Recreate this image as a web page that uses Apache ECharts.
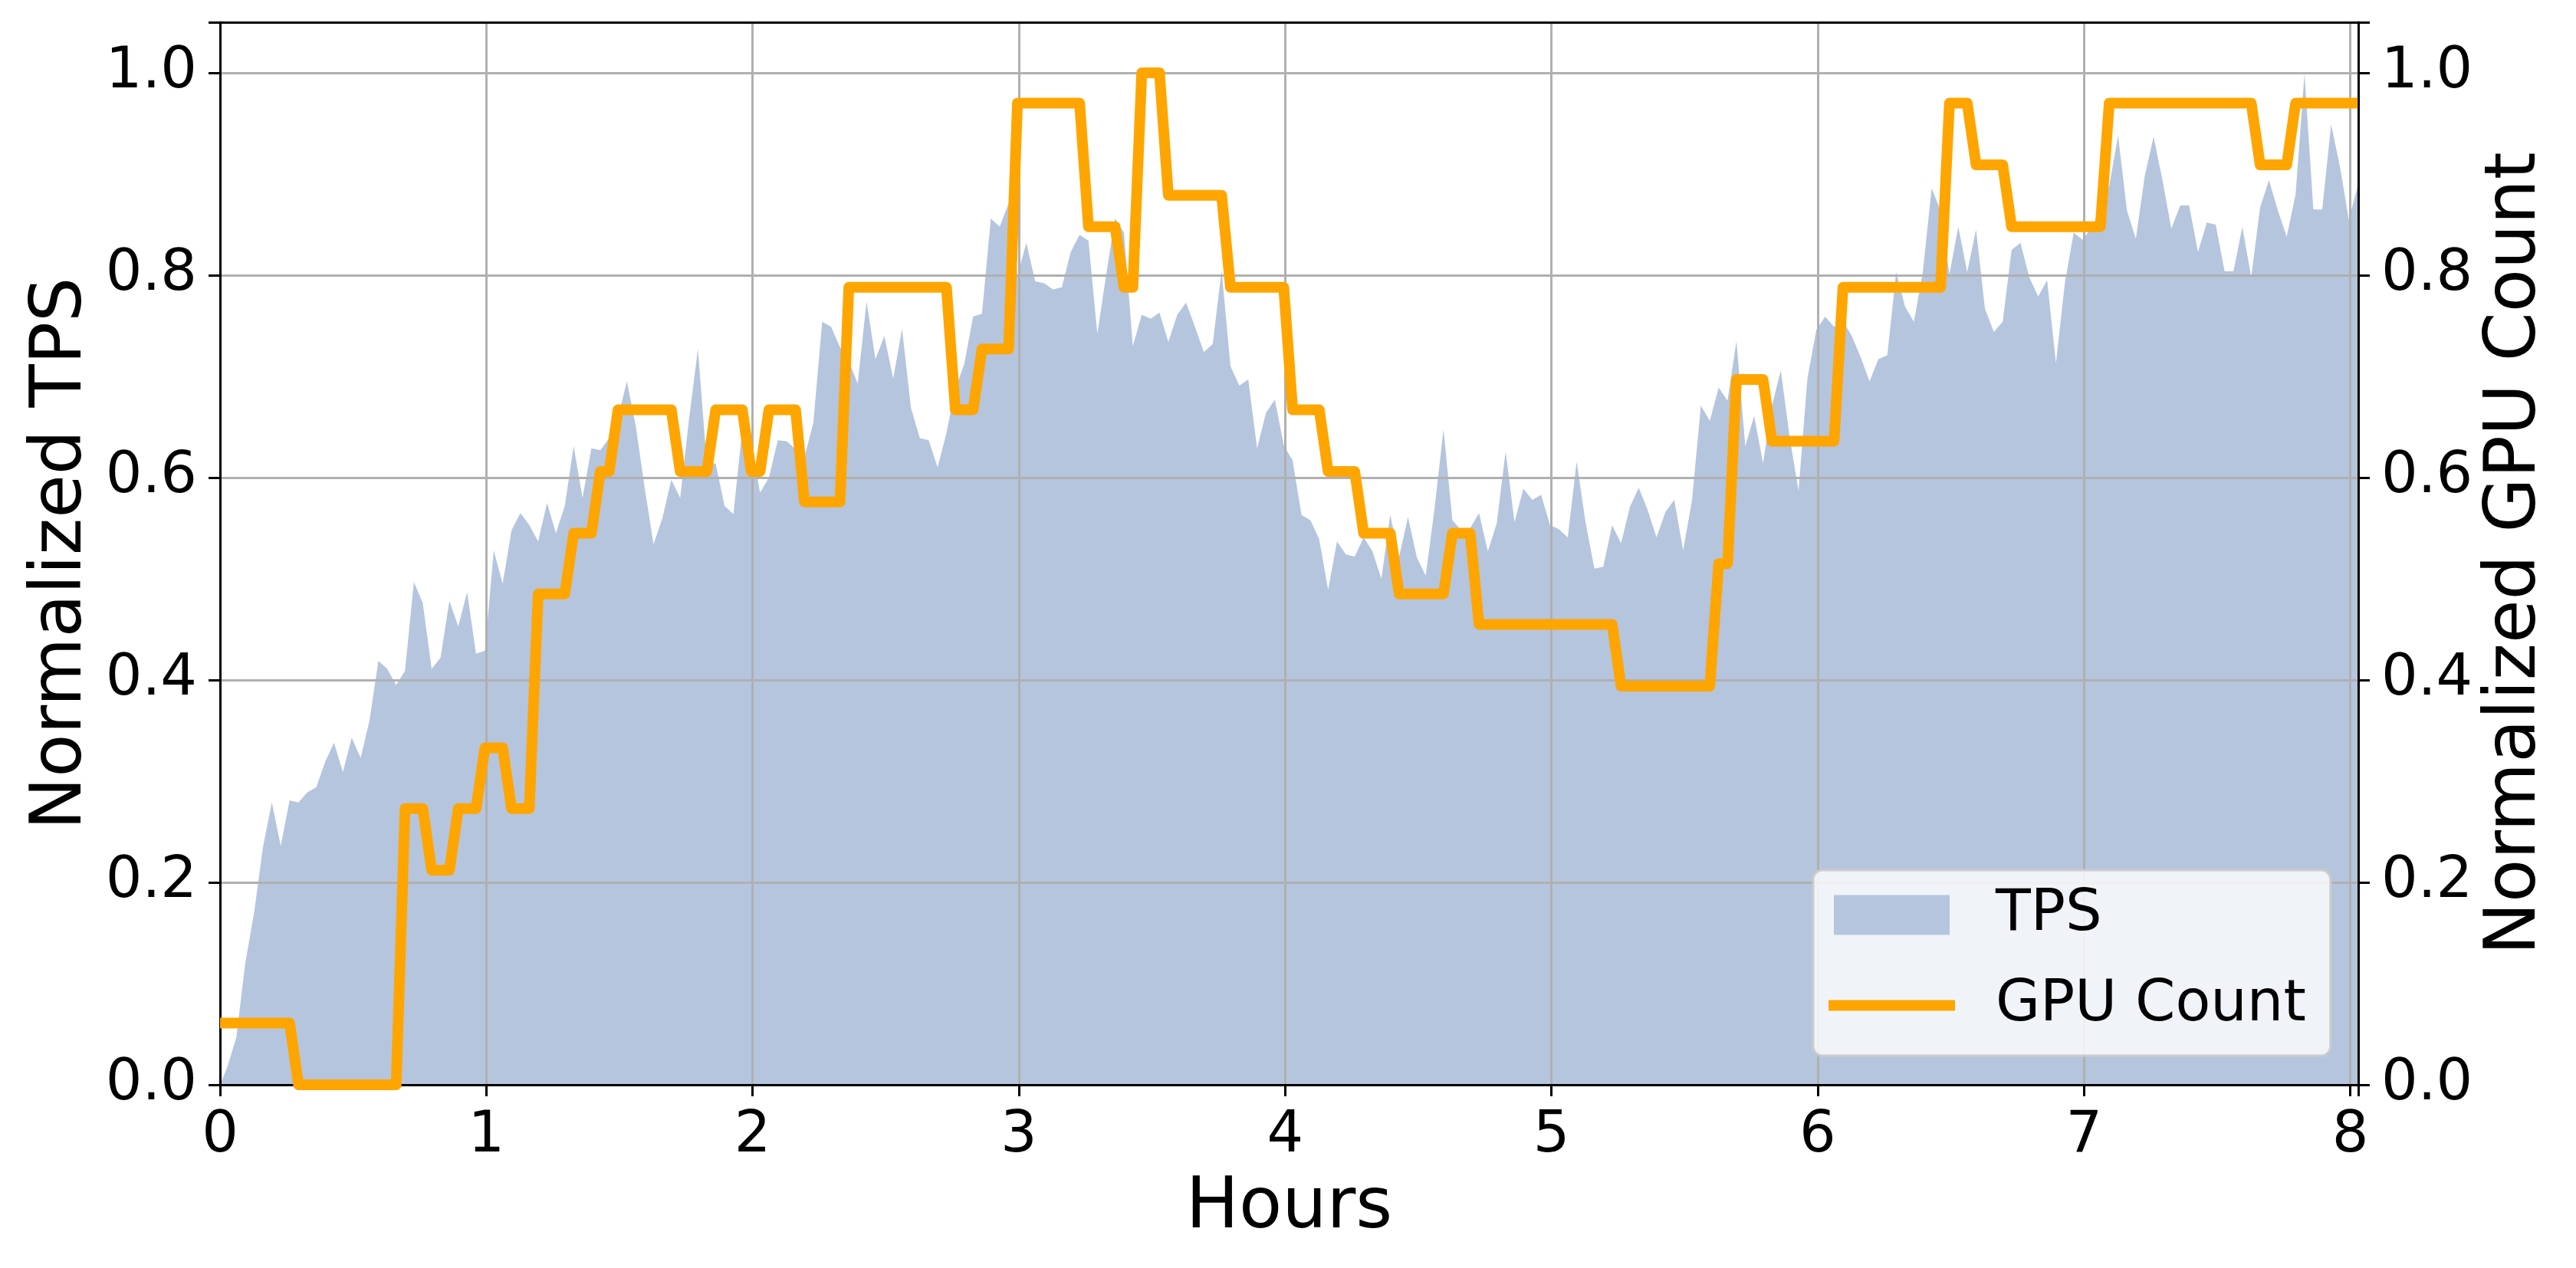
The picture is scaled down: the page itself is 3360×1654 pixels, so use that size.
<!DOCTYPE html>
<html>
<head>
<meta charset="utf-8">
<script src="https://cdn.jsdelivr.net/npm/echarts@6/dist/echarts.min.js"></script>
<style>
  html, body { margin: 0; padding: 0; background: #fff; }
  #chart { width: 3360px; height: 1654px; }
</style>
</head>
<body>
<div id="chart"></div>
<script>
// ---- Data ----
// Sample times: first point at 0 h, then samples every 2 minutes starting at 0.028 h
const FIRST_SAMPLE_H = 0.028;
const SAMPLE_STEP_H = 2 / 60;
const X_MAX = 8.03;

// Normalized TPS (first value is the point at 0 h)
const tpsValues = [
  0,
  0.018, 0.047, 0.12, 0.17, 0.235,
  0.279, 0.236, 0.281, 0.279, 0.289, 0.294, 0.319, 0.338, 0.309, 0.343,
  0.323, 0.36, 0.419, 0.411, 0.395, 0.409, 0.497, 0.476, 0.411, 0.422,
  0.478, 0.453, 0.487, 0.426, 0.429, 0.528, 0.495, 0.548, 0.565, 0.553,
  0.537, 0.575, 0.545, 0.572, 0.631, 0.58, 0.629, 0.627, 0.639, 0.66,
  0.695, 0.651, 0.59, 0.534, 0.56, 0.598, 0.58, 0.658, 0.727, 0.614,
  0.614, 0.572, 0.564, 0.648, 0.635, 0.585, 0.60, 0.637, 0.636, 0.628,
  0.62, 0.654, 0.754, 0.749, 0.729, 0.715, 0.693, 0.774, 0.717, 0.74,
  0.698, 0.747, 0.669, 0.639, 0.637, 0.61, 0.644, 0.688, 0.712, 0.759,
  0.762, 0.856, 0.848, 0.871, 0.80, 0.832, 0.794, 0.792, 0.786, 0.788,
  0.823, 0.84, 0.834, 0.742, 0.801, 0.856, 0.842, 0.73, 0.761, 0.757,
  0.763, 0.734, 0.761, 0.773, 0.749, 0.724, 0.732, 0.805, 0.71, 0.691,
  0.697, 0.629, 0.664, 0.677, 0.632, 0.617, 0.563, 0.558, 0.539, 0.489,
  0.537, 0.524, 0.522, 0.541, 0.527, 0.5, 0.563, 0.522, 0.561, 0.521,
  0.503, 0.57, 0.648, 0.558, 0.548, 0.55, 0.565, 0.527, 0.555, 0.626,
  0.556, 0.589, 0.578, 0.583, 0.553, 0.549, 0.541, 0.616, 0.556, 0.51,
  0.512, 0.553, 0.535, 0.571, 0.59, 0.568, 0.541, 0.566, 0.578, 0.528,
  0.578, 0.671, 0.656, 0.689, 0.676, 0.735, 0.631, 0.661, 0.614, 0.671,
  0.706, 0.64, 0.587, 0.698, 0.746, 0.759, 0.749, 0.755, 0.74, 0.719,
  0.695, 0.717, 0.721, 0.803, 0.769, 0.754, 0.803, 0.886, 0.864, 0.801,
  0.848, 0.803, 0.845, 0.767, 0.744, 0.754, 0.825, 0.832, 0.798, 0.779,
  0.795, 0.713, 0.792, 0.842, 0.835, 0.847, 0.864, 0.888, 0.938, 0.864,
  0.836, 0.898, 0.937, 0.894, 0.846, 0.869, 0.869, 0.823, 0.852, 0.85,
  0.804, 0.804, 0.848, 0.798, 0.867, 0.894, 0.864, 0.838, 0.88, 0.999,
  0.865, 0.865, 0.949, 0.907, 0.855, 0.888
];

// Normalized GPU count (same sample times as TPS)
const gpuValues = [
  0.061,
  0.061, 0.061, 0.061, 0.061, 0.061, 0.061, 0.061, 0.061,
  0, 0, 0, 0, 0, 0, 0, 0, 0, 0, 0, 0,
  0.273, 0.273, 0.273,
  0.212, 0.212, 0.212,
  0.273, 0.273, 0.273,
  0.333, 0.333, 0.333,
  0.273, 0.273, 0.273,
  0.485, 0.485, 0.485, 0.485,
  0.545, 0.545, 0.545,
  0.606, 0.606,
  0.667, 0.667, 0.667, 0.667, 0.667, 0.667, 0.667,
  0.606, 0.606, 0.606, 0.606,
  0.667, 0.667, 0.667, 0.667,
  0.606, 0.606,
  0.667, 0.667, 0.667, 0.667,
  0.576, 0.576, 0.576, 0.576, 0.576,
  0.788, 0.788, 0.788, 0.788, 0.788, 0.788, 0.788, 0.788, 0.788, 0.788, 0.788, 0.788,
  0.667, 0.667, 0.667,
  0.727, 0.727, 0.727, 0.727,
  0.970, 0.970, 0.970, 0.970, 0.970, 0.970, 0.970, 0.970,
  0.848, 0.848, 0.848, 0.848,
  0.788, 0.788,
  1.0, 1.0, 1.0,
  0.879, 0.879, 0.879, 0.879, 0.879, 0.879, 0.879,
  0.788, 0.788, 0.788, 0.788, 0.788, 0.788, 0.788,
  0.667, 0.667, 0.667, 0.667,
  0.606, 0.606, 0.606, 0.606,
  0.545, 0.545, 0.545, 0.545,
  0.485, 0.485, 0.485, 0.485, 0.485, 0.485,
  0.545, 0.545, 0.545,
  0.455, 0.455, 0.455, 0.455, 0.455, 0.455, 0.455, 0.455,
  0.455, 0.455, 0.455, 0.455, 0.455, 0.455, 0.455, 0.455,
  0.394, 0.394, 0.394, 0.394, 0.394, 0.394, 0.394, 0.394, 0.394, 0.394, 0.394,
  0.515, 0.515,
  0.697, 0.697, 0.697, 0.697,
  0.636, 0.636, 0.636, 0.636, 0.636, 0.636, 0.636, 0.636,
  0.788, 0.788, 0.788, 0.788, 0.788, 0.788, 0.788, 0.788, 0.788, 0.788, 0.788, 0.788,
  0.970, 0.970, 0.970,
  0.909, 0.909, 0.909, 0.909,
  0.848, 0.848, 0.848, 0.848, 0.848, 0.848, 0.848, 0.848, 0.848, 0.848, 0.848,
  0.970, 0.970, 0.970, 0.970, 0.970, 0.970, 0.970, 0.970, 0.970,
  0.970, 0.970, 0.970, 0.970, 0.970, 0.970, 0.970, 0.970,
  0.909, 0.909, 0.909, 0.909,
  0.970, 0.970, 0.970, 0.970, 0.970, 0.970, 0.970, 0.970
];

const xTickLabels = ['0', '1', '2', '3', '4', '5', '6', '7', '8'];
const yTickLabels = ['0.0', '0.2', '0.4', '0.6', '0.8', '1.0'];

// ---- Build chart ----
const sampleHours = tpsValues.map((_, i) => i === 0 ? 0 : FIRST_SAMPLE_H + (i - 1) * SAMPLE_STEP_H);
const tpsData = tpsValues.map((v, i) => [sampleHours[i], v]);
const gpuData = gpuValues.map((v, i) => [sampleHours[i], v]);

const FONT = 'DejaVu Sans';
const xFmt = v => {
  const r = Math.round(v);
  return Math.abs(v - r) < 1e-9 && xTickLabels.includes(String(r)) ? String(r) : '';
};
const yFmt = v => {
  const s = (Math.round(v * 10) / 10).toFixed(1);
  return Math.abs(v - parseFloat(s)) < 1e-9 && yTickLabels.includes(s) ? s : '';
};

const axisLineStyle = { color: '#000', width: 3 };
const tickStyle = { color: '#000', width: 3 };
const gridLine = { color: '#b0b0b0', width: 3 };

// legend handle shapes (165 x 52 box; invisible corner points fix the bounds)
const ICON_PATCH = 'path://M0,0 L0,0 M7,0 L158,0 L158,52 L7,52 Z M165,52 L165,52';
const ICON_LINE = 'path://M0,0 L0,0 M0,19 L165,19 L165,33 L0,33 Z M165,52 L165,52';

const chart = echarts.init(document.getElementById('chart'), null, { renderer: 'canvas', width: 3360, height: 1654 });
chart.setOption({
  animation: false,
  backgroundColor: '#ffffff',
  grid: { left: 287, right: 284, top: 29, bottom: 239, containLabel: false },
  legend: {
    orient: 'vertical',
    left: 2365, top: 1135,
    padding: [21, 32, 28, 20],
    itemWidth: 165, itemHeight: 52, itemGap: 43,
    symbolKeepAspect: false,
    itemStyle: { borderWidth: 0 },
    backgroundColor: 'rgba(255,255,255,0.8)',
    borderColor: '#cccccc', borderWidth: 3, borderRadius: 12,
    textStyle: { fontFamily: FONT, fontSize: 75, color: '#000', lineHeight: 52, padding: [0, 0, 0, 48] },
    data: [
      { name: 'TPS', icon: ICON_PATCH, itemStyle: { borderWidth: 0 } },
      { name: 'GPU Count', icon: ICON_LINE, itemStyle: { borderWidth: 0 } }
    ],
    z: 10
  },
  xAxis: [
    {
      type: 'value', position: 'bottom', min: 0, max: X_MAX, interval: 1, z: 3,
      axisLine: { show: true, onZero: false, lineStyle: axisLineStyle },
      axisTick: { show: true, length: 15, inside: false, lineStyle: tickStyle },
      axisLabel: { fontFamily: FONT, fontSize: 75, color: '#000', margin: 30, formatter: xFmt },
      splitLine: { show: true, lineStyle: gridLine },
      name: 'Hours', nameLocation: 'middle', nameGap: 116,
      nameTextStyle: { fontFamily: FONT, fontSize: 92, color: '#000' }
    },
    {
      type: 'value', position: 'top', min: 0, max: X_MAX, z: 3,
      axisLine: { show: true, onZero: false, lineStyle: axisLineStyle },
      axisTick: { show: false }, axisLabel: { show: false }, splitLine: { show: false }
    }
  ],
  yAxis: [
    {
      type: 'value', position: 'left', min: 0, max: 1.05, interval: 0.2, z: 3,
      axisLine: { show: true, onZero: false, lineStyle: axisLineStyle },
      axisTick: { show: true, length: 15, lineStyle: tickStyle },
      axisLabel: { fontFamily: FONT, fontSize: 75, color: '#000', margin: 30, formatter: yFmt },
      splitLine: { show: true, lineStyle: gridLine },
      name: 'Normalized TPS', nameLocation: 'middle', nameGap: 160, nameRotate: 90,
      nameTextStyle: { fontFamily: FONT, fontSize: 92, color: '#000' }
    },
    {
      type: 'value', position: 'right', min: 0, max: 1.05, interval: 0.2, z: 3,
      axisLine: { show: true, onZero: false, lineStyle: axisLineStyle },
      axisTick: { show: true, length: 15, lineStyle: tickStyle },
      axisLabel: { fontFamily: FONT, fontSize: 75, color: '#000', margin: 30, formatter: yFmt },
      splitLine: { show: false },
      name: 'Normalized GPU Count', nameLocation: 'middle', nameGap: 150, nameRotate: 90,
      nameTextStyle: { fontFamily: FONT, fontSize: 92, color: '#000' }
    }
  ],
  series: [
    {
      name: 'TPS', type: 'line', xAxisIndex: 0, yAxisIndex: 0,
      data: tpsData, symbol: 'none', showSymbol: false, z: 1,
      itemStyle: { color: '#b5c5de' },
      lineStyle: { width: 0, color: '#b5c5de' },
      areaStyle: { color: '#b5c5de', opacity: 1 }
    },
    {
      name: 'GPU Count', type: 'line', xAxisIndex: 0, yAxisIndex: 1,
      data: gpuData, symbol: 'none', showSymbol: false, z: 5,
      itemStyle: { color: '#ffa500' },
      lineStyle: { width: 14, color: '#ffa500', join: 'round', cap: 'butt' }
    }
  ]
});
</script>
</body>
</html>
